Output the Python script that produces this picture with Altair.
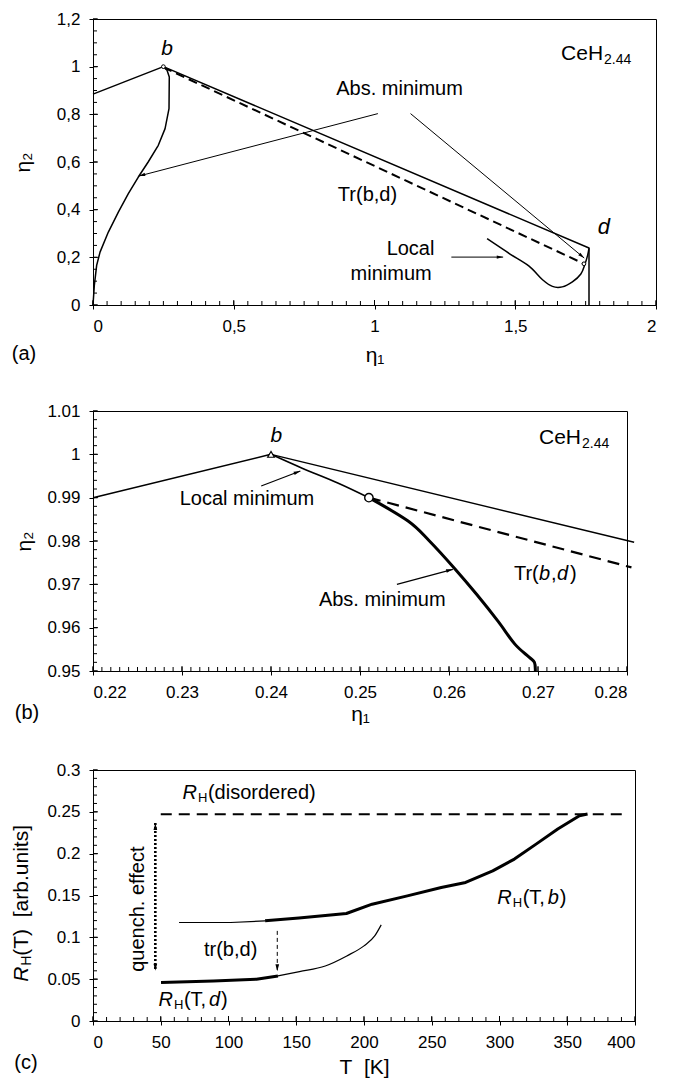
import math
import altair as alt
import pandas as pd

FONT = "Liberation Sans"
ANN = 20

# ---------------- panel (a) ----------------
A_W, A_H = 563, 286
A_X_DOMAIN = [0, 2]
A_Y_DOMAIN = [0, 1.2]
A_X_TICKS = [0, 0.5, 1, 1.5, 2]
A_Y_TICKS = [0, 0.2, 0.4, 0.6, 0.8, 1, 1.2]
A_X_MINOR = [round(i * 0.05, 2) for i in range(41)]
A_Y_MINOR = [round(i * 0.05, 2) for i in range(25)]
A_LEFT_X = [0.0, 0.25]
A_LEFT_Y = [0.885, 1.0]
A_BD_X = [0.25, 1.762, 1.762]
A_BD_Y = [1.0, 0.239, 0.0]
A_TR_X = [0.25, 1.744]
A_TR_Y = [0.997, 0.173]
A_ABS_X = [0.25, 0.263, 0.271, 0.270, 0.256, 0.232, 0.196, 0.161, 0.1255, 0.090, 0.0545, 0.025, 0.013, 0.0047, 0.0]
A_ABS_Y = [1.0, 0.985, 0.957, 0.824, 0.740, 0.670, 0.600, 0.537, 0.467, 0.390, 0.306, 0.222, 0.166, 0.0825, 0.0]
A_LOC_X = [1.40, 1.48, 1.549, 1.596, 1.632, 1.667, 1.703, 1.733, 1.748, 1.757, 1.762]
A_LOC_Y = [0.278, 0.215, 0.163, 0.107, 0.078, 0.076, 0.097, 0.130, 0.173, 0.208, 0.239]
A_ARROWS = [(1.012, 0.803, 0.163, 0.541), (1.128, 0.803, 1.745, 0.197), (1.273, 0.201, 1.457, 0.201)]
A_MARK_X = [0.25, 1.744]
A_MARK_Y = [1.0, 0.173]

# ---------------- panel (b) ----------------
B_W, B_H = 534, 260
B_X_DOMAIN = [0.22, 0.28]
B_Y_DOMAIN = [0.95, 1.01]
B_X_TICKS = [0.22, 0.23, 0.24, 0.25, 0.26, 0.27, 0.28]
B_Y_TICKS = [0.95, 0.96, 0.97, 0.98, 0.99, 1, 1.01]
B_X_MINOR = [round(0.22 + i * 0.001, 3) for i in range(61)]
B_Y_MINOR = [round(0.95 + i * 0.002, 3) for i in range(31)]
B_LEFT_X = [0.22, 0.24]
B_LEFT_Y = [0.99, 1.0]
B_BD_X = [0.24, 0.2808]
B_BD_Y = [1.0, 0.9797]
B_TR_X = [0.251, 0.2805]
B_TR_Y = [0.99, 0.9739]
B_LOC_X = [0.24, 0.2435, 0.2475, 0.251]
B_LOC_Y = [1.0, 0.9968, 0.9934, 0.99]
B_ABS_X = [0.251, 0.2554, 0.2578, 0.2607, 0.2631, 0.2655, 0.2674, 0.2690, 0.2696, 0.2697]
B_ABS_Y = [0.99, 0.9846, 0.980, 0.9735, 0.9677, 0.9615, 0.9562, 0.9532, 0.952, 0.95]
B_ARROWS = [(0.2389, 0.9927, 0.2433, 0.99615), (0.25415, 0.970, 0.26043, 0.97346)]
B_TRI_X, B_TRI_Y = [0.24], [1.0]
B_CIRC_X, B_CIRC_Y = [0.251], [0.99]

# ---------------- panel (c) ----------------
C_W, C_H = 542, 251
C_X_DOMAIN = [0, 400]
C_Y_DOMAIN = [0, 0.3]
C_X_TICKS = [0, 50, 100, 150, 200, 250, 300, 350, 400]
C_Y_TICKS = [0, 0.05, 0.1, 0.15, 0.2, 0.25, 0.3]
C_X_MINOR = [i * 10 for i in range(41)]
C_Y_MINOR = [round(i * 0.01, 2) for i in range(31)]
C_B_THIN_T = [63.5, 101.6, 127]
C_B_THIN_R = [0.1177, 0.1177, 0.1197]
C_B_THICK_T = [127, 152, 187, 206, 232, 257, 275, 295, 311, 327, 343, 359, 365]
C_B_THICK_R = [0.1197, 0.123, 0.1285, 0.1396, 0.1496, 0.1596, 0.1656, 0.1795, 0.1935, 0.2114, 0.2294, 0.2453, 0.2473]
C_D_THICK_T = [50.2, 88.9, 120.6, 136.5]
C_D_THICK_R = [0.0459, 0.0479, 0.0499, 0.0539]
C_D_THIN_T = [136.5, 152.4, 171.4, 187.3, 200, 207.9, 212.7]
C_D_THIN_R = [0.0539, 0.0591, 0.0658, 0.0778, 0.0898, 0.1017, 0.1149]
C_DIS_T = [50, 392]
C_DIS_R = [0.247, 0.247]
C_TR_ARROW = (136, 0.1077, 136, 0.0595)
C_Q_ARROW = (46, 0.15, 46, 0.2367, 46, 0.06)

ARROW = "M0,0L0.5,1.9L-0.5,1.9Z"


def enc_x(domain, ticks, title, title_y, comma=False):
    expr = "replace(toString(datum.value), '.', ',')" if comma else "toString(datum.value)"
    ax = alt.Axis(values=ticks, labelExpr=expr, titleY=title_y, titleBaseline="middle",
                  labelOverlap=False, grid=False)
    return alt.X("x:Q", scale=alt.Scale(domain=domain, nice=False, zero=False), axis=ax, title=title)


def enc_y(domain, ticks, title, title_x, comma=False):
    expr = "replace(toString(datum.value), '.', ',')" if comma else "toString(datum.value)"
    ax = alt.Axis(values=ticks, labelExpr=expr, titleX=title_x, titleBaseline="middle",
                  labelOverlap=False, grid=False)
    return alt.Y("y:Q", scale=alt.Scale(domain=domain, nice=False, zero=False), axis=ax, title=title)


def line(X, Y, xs, ys, width=1.4, dash=None, interp=None):
    df = pd.DataFrame({"x": xs, "y": ys, "i": list(range(len(xs)))})
    kw = dict(color="black", strokeWidth=width, strokeCap="butt", strokeJoin="round")
    if dash:
        kw["strokeDash"] = dash
    if interp:
        kw["interpolate"] = interp
    return alt.Chart(df).mark_line(**kw).encode(x=X, y=Y, order="i:Q")


def heads(X, Y, segs, w, h, xd, yd, size=60):
    sx = w / (xd[1] - xd[0])
    sy = h / (yd[1] - yd[0])
    rows = []
    for (x0, y0, x1, y1) in segs:
        dxp = (x1 - x0) * sx
        dyp = -(y1 - y0) * sy
        ang = math.degrees(math.atan2(dxp, -dyp)) % 360
        rows.append({"x": x1, "y": y1, "a": ang})
    df = pd.DataFrame(rows)
    return alt.Chart(df).mark_point(shape=ARROW, filled=True, size=size, color="black",
                                    opacity=1, strokeWidth=0).encode(
        x=X, y=Y, angle=alt.Angle("a:Q", scale=None))


def xticks(X, vals, h, length):
    df = pd.DataFrame({"x": vals})
    return alt.Chart(df).mark_rule(color="black", strokeWidth=1).encode(
        x=X, y=alt.value(h), y2=alt.value(h - length))


def yticks(Y, vals, length):
    df = pd.DataFrame({"y": vals})
    return alt.Chart(df).mark_rule(color="black", strokeWidth=1).encode(
        y=Y, x=alt.value(0), x2=alt.value(length))


def txt(X, Y, x, y, s, size=ANN, style="normal", align="center", dx=0, dy=0, angle=0, xpix=None, ypix=None):
    df = pd.DataFrame({"x": [x], "y": [y], "t": [s]})
    mk = dict(font=FONT, fontSize=size, fontStyle=style, align=align, baseline="middle", color="black")
    if dx:
        mk["dx"] = dx
    if dy:
        mk["dy"] = dy
    if angle:
        mk["angle"] = angle
    enc = {"text": "t:N"}
    enc["x"] = alt.value(xpix) if xpix is not None else X
    enc["y"] = alt.value(ypix) if ypix is not None else Y
    return alt.Chart(df).mark_text(**mk).encode(**enc)


def marker(X, Y, xs, ys, shape, size, width=1.2):
    df = pd.DataFrame({"x": xs, "y": ys})
    return alt.Chart(df).mark_point(shape=shape, size=size, filled=False, fill="white",
                                    fillOpacity=1, stroke="black", strokeWidth=width,
                                    opacity=1).encode(x=X, y=Y)


# ================= panel (a) =================
XA = enc_x(A_X_DOMAIN, A_X_TICKS, "η₁", 50, comma=True)
YA = enc_y(A_Y_DOMAIN, A_Y_TICKS, "η₂", -70, comma=True)
la = [
    xticks(XA, A_X_MINOR, A_H, 4), xticks(XA, A_X_TICKS, A_H, 5),
    yticks(YA, A_Y_MINOR, 4), yticks(YA, A_Y_TICKS, 5),
    line(XA, YA, A_LEFT_X, A_LEFT_Y, 1.5),
    line(XA, YA, A_BD_X, A_BD_Y, 1.5),
    line(XA, YA, A_TR_X, A_TR_Y, 2.0, [9, 5]),
    line(XA, YA, A_ABS_X, A_ABS_Y, 1.5),
    line(XA, YA, A_LOC_X, A_LOC_Y, 1.5, interp="cardinal"),
]
for s in A_ARROWS:
    la.append(line(XA, YA, [s[0], s[2]], [s[1], s[3]], 1.0))
la.append(heads(XA, YA, A_ARROWS, A_W, A_H, A_X_DOMAIN, A_Y_DOMAIN, 45))
la.append(marker(XA, YA, A_MARK_X, A_MARK_Y, "circle", 14, 1.0))
la += [
    txt(XA, YA, 1.089, 0.908, "Abs. minimum"),
    txt(XA, YA, 0.975, 0.460, "Tr(b,d)"),
    txt(XA, YA, 1.128, 0.236, "Local"),
    txt(XA, YA, 1.059, 0.131, "minimum"),
    txt(XA, YA, 0.263, 1.076, "b", 21, "italic"),
    txt(XA, YA, 1.815, 0.327, "d", 22, "italic"),
    txt(XA, YA, 1.812, 1.055, "CeH", 21, align="right"),
    txt(XA, YA, 1.812, 1.055, "2.44", 14, align="left", dx=1, dy=6),
    txt(XA, YA, 0, 0, "(a)", 20, xpix=-69, ypix=A_H + 49),
]
panel_a = alt.layer(*la).properties(width=A_W, height=A_H)

# ================= panel (b) =================
XB = enc_x(B_X_DOMAIN, B_X_TICKS, "η₁", 43)
YB = enc_y(B_Y_DOMAIN, B_Y_TICKS, "η₂", -69)
lb = [
    xticks(XB, B_X_MINOR, B_H, 4), xticks(XB, B_X_TICKS, B_H, 5),
    yticks(YB, B_Y_MINOR, 4), yticks(YB, B_Y_TICKS, 5),
    line(XB, YB, B_LEFT_X, B_LEFT_Y, 1.5),
    line(XB, YB, B_BD_X, B_BD_Y, 1.4),
    line(XB, YB, B_TR_X, B_TR_Y, 2.2, [12, 7]),
    line(XB, YB, B_LOC_X, B_LOC_Y, 1.6, interp="cardinal"),
    line(XB, YB, B_ABS_X, B_ABS_Y, 3.0, interp="cardinal"),
]
for s in B_ARROWS:
    lb.append(line(XB, YB, [s[0], s[2]], [s[1], s[3]], 1.2))
lb.append(heads(XB, YB, B_ARROWS, B_W, B_H, B_X_DOMAIN, B_Y_DOMAIN, 50))
lb.append(marker(XB, YB, B_TRI_X, B_TRI_Y, "triangle-up", 45, 1.2))
lb.append(marker(XB, YB, B_CIRC_X, B_CIRC_Y, "circle", 70, 1.4))
lb += [
    txt(XB, YB, 0.2406, 1.0042, "b", 21, "italic"),
    txt(XB, YB, 0.2373, 0.9896, "Local minimum"),
    txt(XB, YB, 0.2525, 0.9665, "Abs. minimum"),
    txt(XB, YB, 0.2673, 0.9723, "Tr(", align="left"),
    txt(XB, YB, 0.2673, 0.9723, "b", style="italic", align="left", dx=25),
    txt(XB, YB, 0.2673, 0.9723, ",", align="left", dx=37),
    txt(XB, YB, 0.2673, 0.9723, "d", style="italic", align="left", dx=43),
    txt(XB, YB, 0.2673, 0.9723, ")", align="left", dx=56),
    txt(XB, YB, 0.27483, 1.00384, "CeH", 21, align="right"),
    txt(XB, YB, 0.27483, 1.00384, "2.44", 14, align="left", dx=1, dy=6),
    txt(XB, YB, 0.22, 0.95, "(b)", 20, xpix=-66, ypix=B_H + 42),
]
panel_b = alt.layer(*lb).properties(width=B_W, height=B_H)

# ================= panel (c) =================
XC = enc_x(C_X_DOMAIN, C_X_TICKS, "T\u00a0\u00a0[K]", 46)
YC = enc_y(C_Y_DOMAIN, C_Y_TICKS, None, -71)
lc = [
    xticks(XC, C_X_MINOR, C_H, 4), xticks(XC, C_X_TICKS, C_H, 5),
    yticks(YC, C_Y_MINOR, 4), yticks(YC, C_Y_TICKS, 5),
    line(XC, YC, C_DIS_T, C_DIS_R, 2.0, [11, 7]),
    line(XC, YC, C_B_THIN_T, C_B_THIN_R, 1.2),
    line(XC, YC, C_B_THICK_T, C_B_THICK_R, 3.0),
    line(XC, YC, C_D_THICK_T, C_D_THICK_R, 3.0),
    line(XC, YC, C_D_THIN_T, C_D_THIN_R, 1.2, interp="monotone"),
    line(XC, YC, [C_TR_ARROW[0], C_TR_ARROW[2]], [C_TR_ARROW[1], C_TR_ARROW[3]], 1.0, [4, 3]),
    line(XC, YC, [C_Q_ARROW[2], C_Q_ARROW[4]], [C_Q_ARROW[3], C_Q_ARROW[5]], 2.6, [2, 2]),
    heads(XC, YC, [C_TR_ARROW,
                   (C_Q_ARROW[0], C_Q_ARROW[1], C_Q_ARROW[2], C_Q_ARROW[3]),
                   (C_Q_ARROW[0], C_Q_ARROW[1], C_Q_ARROW[4], C_Q_ARROW[5])],
          C_W, C_H, C_X_DOMAIN, C_Y_DOMAIN, 55),
    txt(XC, YC, 33, 0.1337, "quench. effect", angle=270),
    txt(XC, YC, 101.6, 0.0846, "tr(b,d)"),
    txt(XC, YC, 76.7, 0.2729, "R", style="italic", align="right"),
    txt(XC, YC, 76.7, 0.2729, "H", 13, align="left", dx=1, dy=5),
    txt(XC, YC, 76.7, 0.2729, "(disordered)", align="left", dx=11),
    txt(XC, YC, 309, 0.1476, "R", style="italic", align="right"),
    txt(XC, YC, 309, 0.1476, "H", 13, align="left", dx=1, dy=5),
    txt(XC, YC, 309, 0.1476, "(T,", align="left", dx=11),
    txt(XC, YC, 309, 0.1476, "b", style="italic", align="left", dx=36),
    txt(XC, YC, 309, 0.1476, ")", align="left", dx=48),
    txt(XC, YC, 59, 0.0247, "R", style="italic", align="right"),
    txt(XC, YC, 59, 0.0247, "H", 13, align="left", dx=1, dy=5),
    txt(XC, YC, 59, 0.0247, "(T,", align="left", dx=11),
    txt(XC, YC, 59, 0.0247, "d", style="italic", align="left", dx=36),
    txt(XC, YC, 59, 0.0247, ")", align="left", dx=48),
    txt(XC, YC, 0, 0.0649, "R", 21, "italic", align="right", angle=270, xpix=-71),
    txt(XC, YC, 0, 0.0649, "H", 14, align="left", dx=1, dy=5, angle=270, xpix=-71),
    txt(XC, YC, 0, 0.0649, "(T)\u00a0\u00a0[arb.units]", 21, align="left", dx=11, angle=270, xpix=-71),
    txt(XC, YC, 0, 0, "(c)", 20, xpix=-67, ypix=C_H + 42),
]
panel_c = alt.layer(*lc).properties(width=C_W, height=C_H)

chart = alt.vconcat(panel_a, panel_b, panel_c, spacing=35).properties(
    padding={"left": 2, "top": 1, "right": 5, "bottom": 1},
    background="white",
).configure_view(stroke="black", strokeWidth=1).configure_axis(
    labelFont=FONT, labelFontSize=17, labelColor="black",
    titleFont=FONT, titleFontSize=21, titleFontWeight="normal", titleColor="black",
    domainColor="black", domainWidth=1, tickColor="black", tickWidth=1, tickSize=4,
    labelPadding=9, grid=False,
)

chart.save("out.html", embed_options={"renderer": "svg", "actions": False})
